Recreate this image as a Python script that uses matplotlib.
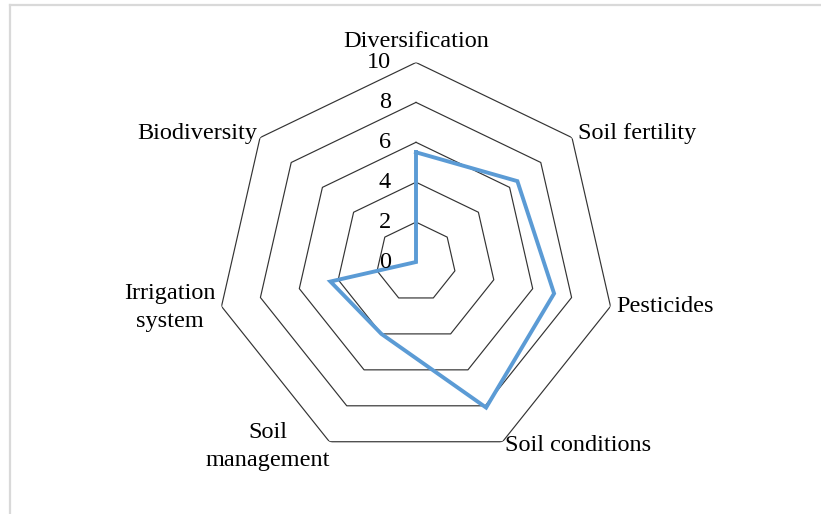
import numpy as np
import matplotlib
matplotlib.use("Agg")
import matplotlib.pyplot as plt

# Données du graphique
categories = ["Diversification", "Soil fertility", "Pesticides", "Soil conditions",
              "Soil\nmanagement", "Irrigation\nsystem", "Biodiversity"]
values = [5.5, 6.5, 7.1, 8.1, 4.0, 4.4, 0.0]
levels = [0, 2, 4, 6, 8, 10]

# décalages des étiquettes (pixels) et alignement
label_offsets = [(0, 21), (6, 4), (6, 0), (2, -4), (1, -5), (-6, -1), (-3, 4)]
label_ha = ["center", "left", "left", "left", "right", "right", "right"]

W, H = 821, 514
fig = plt.figure(figsize=(W / 100, H / 100), dpi=100)

# bordure grise de la zone du graphique
fig.add_artist(plt.Line2D([10 / W, 10 / W], [0, 1 - 5 / H], transform=fig.transFigure,
                          color="#d9d9d9", lw=1.6))
fig.add_artist(plt.Line2D([10 / W, 1], [1 - 5 / H, 1 - 5 / H], transform=fig.transFigure,
                          color="#d9d9d9", lw=1.6))

cx, cy, R = 416, 262, 199.5
ax = fig.add_axes([(cx - R) / W, (H - cy - R) / H, 2 * R / W, 2 * R / H],
                  projection="polar")
ax.set_theta_zero_location("N")
ax.set_theta_direction(-1)
ax.set_ylim(0, 10)
ax.grid(False)
ax.set_xticks([])
ax.set_yticks([])
ax.spines["polar"].set_visible(False)
ax.patch.set_visible(False)

n = len(categories)
angles = [2 * np.pi * i / n for i in range(n)]
closed = angles + angles[:1]

font = dict(family="Liberation Serif", size=17.5, color="black")

# grille heptagonale
for lv in levels[1:]:
    ax.plot(closed, [lv] * (n + 1), color="#333333", lw=0.85, zorder=1)

# série
ax.plot(closed, values + values[:1], color="#5b9bd5", lw=2.8, zorder=3,
        solid_joinstyle="miter")

# étiquettes de l'axe radial
for lv in levels:
    ax.annotate(str(lv), xy=(0, lv), xytext=(-25, 0), textcoords="offset pixels",
                ha="right", va="center", annotation_clip=False, **font)

# étiquettes des catégories
for ang, cat, off, ha in zip(angles, categories, label_offsets, label_ha):
    ax.annotate(cat, xy=(ang, 10), xytext=off, textcoords="offset pixels",
                ha=ha, va="center", multialignment="center", linespacing=1.45,
                annotation_clip=False, **font)

plt.savefig("out.png", dpi=100)
